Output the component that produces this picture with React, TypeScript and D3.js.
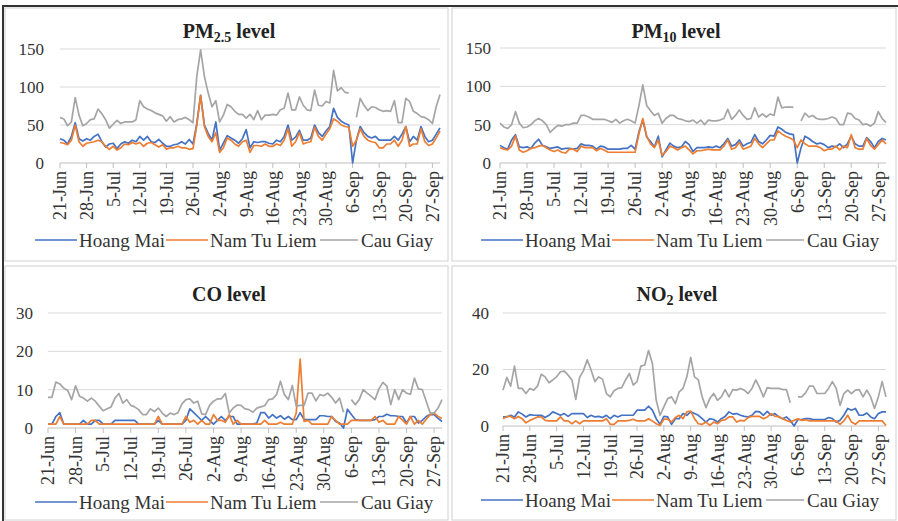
import * as d3 from "d3";

// 101 daily observations, 21 Jun – 29 Sep
const DAYS = d3.timeDay.range(new Date(2020, 5, 21), new Date(2020, 8, 30));
const TICK_DATES = DAYS.filter((_, i) => i % 7 === 0);
const fmt = d3.timeFormat("%-d-%b");

const SERIES_NAMES = ["Hoang Mai", "Nam Tu Liem", "Cau Giay"];
const SERIES_COLORS = ["#4472C4", "#ED7D31", "#A5A5A5"];

type V = number | null;

// PM2.5
const pm25Hoang: V[] = [
  32, 30, 25, 35, 53, 32, 29, 32, 30, 35, 38, 28, 21, 25, 26, 19, 25, 28, 26, 30, 28, 35, 30, 35, 28,
  27, 31, 26, 22, 22, 24, 25, 28, 25, 31, 25, 52, 89, 50, 39, 30, 54, 17, 26, 36, 33, 30, 26, 32,
  44, 20, 28, 27, 28, 28, 26, 25, 30, 28, 35, 50, 30, 34, 43, 30, 30, 33, 50, 40, 35, 42, 48, 72, 60,
  55, 52, 50, 0, 30, 48, 40, 35, 33, 35, 30, 30, 30, 30, 35, 30, 38, 48, 28, 35, 30, 48, 35, 28, 30, 38, 46,
];
const pm25Nam: V[] = [
  27, 26, 24, 30, 50, 28, 22, 26, 27, 28, 30, 28, 22, 18, 22, 17, 20, 25, 24, 27, 25, 27, 22, 26, 27,
  24, 21, 24, 18, 20, 20, 22, 20, 20, 18, 19, 50, 89, 48, 35, 28, 40, 14, 20, 33, 30, 25, 22, 28,
  30, 14, 23, 23, 22, 25, 22, 22, 25, 23, 30, 45, 22, 28, 40, 25, 27, 28, 47, 35, 30, 38, 45, 58, 55,
  50, 48, 47, 22, 30, 45, 35, 30, 28, 27, 20, 20, 25, 25, 30, 22, 30, 48, 22, 25, 25, 45, 28, 23, 25, 33, 42,
];
const pm25Cau: V[] = [
  60, 58, 49, 54, 86, 63, 49, 52, 57, 58, 71, 65, 57, 46, 51, 56, 52, 54, 54, 54, 57, 82, 74, 71, 69,
  66, 64, 62, 55, 61, 54, 57, 58, 60, 57, 53, 114, 149, 114, 92, 74, 82, 54, 63, 77, 74, 68, 64, 64,
  59, 64, 57, 69, 57, 63, 63, 64, 63, 70, 72, 92, 70, 70, 87, 76, 70, 69, 96, 76, 75, 81, 79, 122, 95,
  99, 93, 92, null, 60, 85, 76, 69, 74, 73, 70, 68, 69, 68, 82, 53, 53, 85, 81, 68, 65, 61, 60, 57, 52, 74, 90,
];

// PM10
const pm10Hoang: V[] = [
  23, 20, 18, 30, 37, 21, 20, 21, 19, 26, 31, 23, 21, 19, 20, 21, 18, 19, 19, 18, 19, 25, 23, 23, 22,
  18, 22, 21, 18, 18, 18, 18, 19, 19, 23, 18, 41, 56, 34, 28, 21, 35, 8, 17, 26, 22, 20, 21, 28,
  24, 15, 20, 20, 20, 21, 20, 22, 20, 25, 32, 22, 24, 30, 22, 25, 27, 37, 28, 25, 30, 36, 35, 47, 44,
  40, 38, 37, 0, 20, 35, 32, 28, 25, 26, 24, 20, 22, 21, 25, 20, 25, 35, 25, 22, 22, 33, 28, 20, 28, 32, 30,
];
const pm10Nam: V[] = [
  20, 18, 17, 22, 35, 17, 14, 16, 19, 20, 22, 23, 20, 17, 15, 17, 14, 13, 18, 18, 15, 22, 20, 20, 20,
  16, 19, 17, 14, 14, 14, 14, 14, 14, 14, 14, 38, 58, 35, 25, 20, 30, 10, 15, 22, 20, 17, 20, 22,
  17, 12, 16, 16, 17, 18, 17, 17, 17, 22, 30, 18, 20, 27, 18, 20, 22, 32, 25, 20, 25, 30, 30, 42, 38,
  35, 33, 30, 20, 30, 25, 22, 22, 22, 20, 16, 18, 18, 22, 17, 22, 20, 37, 20, 18, 18, 32, 23, 18, 24, 30, 25,
];
const pm10Cau: V[] = [
  52, 47, 45, 50, 67, 52, 46, 47, 50, 55, 58, 55, 50, 40, 45, 49, 48, 50, 50, 52, 52, 62, 62, 60, 57,
  57, 57, 57, 55, 53, 57, 52, 55, 57, 55, 52, 75, 102, 75, 68, 62, 65, 52, 58, 62, 62, 58, 57, 55,
  54, 56, 52, 56, 50, 56, 55, 55, 56, 58, 70, 57, 62, 69, 62, 57, 58, 72, 60, 64, 60, 64, 62, 86, 72,
  73, 73, 73, null, 55, 65, 60, 62, 58, 57, 57, 58, 60, 58, 50, 50, 65, 64, 58, 56, 50, 51, 48, 52, 67, 58, 53,
];

// CO
const coHoang: V[] = [
  1, 1, 3, 4, 1, 1, 1, 1, 1, 2, 1, 1, 2, 2, 1, 1, 1, 2, 2, 2, 2, 2, 2, 1, 1,
  1, 1, 1, 2, 1, 1, 1, 1, 1, 1, 2, 5, 4, 3, 2, 3, 2, 1, 2, 3, 2, 3, 3, 1,
  1, 1, 1, 1, 1.3, 4, 4, 2.6, 3.5, 2.6, 3.2, 2.3, 3, 2.2, 2.2, 4, 2.2, 2.2, 2.2, 2.2, 3.2, 3.2, 3, 3, 1.7,
  1.3, 0, 4.9, 3.5, 2.2, 2, 2, 2, 2, 2.2, 3, 3, 3.6, 3.2, 3.2, 3, 3, 1.3, 3, 3, 1.3, 2, 3, 3.5, 3.5, 2.5, 1.7,
];
const coNam: V[] = [
  1, 1, 1, 3, 1, 1, 1, 1, 1, 1, 1, 2, 2, 1, 1, 1, 1, 1, 1, 1, 1, 1, 1, 1, 1,
  1, 1, 1, 3, 1, 1, 1, 1, 1, 1, 3, 1.5, 2, 1, 2, 1, 1, 3.5, 2, 2, 1.5, 3.5, 1, 2,
  1, 1, 1, 1, 1, 1, 2, 1, 1, 1, 1.5, 1, 1, 1, 3.9, 18, 1.7, 2, 1, 1, 1, 1, 1, 3, 2,
  1, 1, 1, 2, 2, 2, 2, 2, 2, 3, 1.5, 2, 1, 1, 1, 3, 2, 1, 3, 1, 2, 1, 2.3, 3.5, 3.9, 3, 2.5,
];
const coCau: V[] = [
  8, 8, 12, 11.5, 10.4, 9.8, 7.4, 11, 8.3, 7.8, 7, 7.8, 7, 5.7, 4.5, 5, 5.5, 7.8, 9, 6.5, 7.4, 5.9, 5.5, 4.8, 3.5,
  3.5, 5, 4.3, 5.2, 3.9, 3, 3.9, 3.5, 4, 6.3, 7.4, 7.6, 6.5, 7, 3.7, 3.5, 5.9, 7, 7.6, 7.6, 9, 3.9, 5.2, 6,
  5.9, 5, 4.8, 4.1, 5.2, 5.5, 5.8, 7.4, 7.6, 8.7, 12.2, 8.7, 7.4, 11.1, 5.7, 5.9, 5.9, 9.1, 9.1, 7.1, 8.7, 8.4, 9.1, 8, 6.5,
  7.8, 4.1, null, 7.4, 6.1, 7.4, 10, 9.1, 8.3, 7.4, 10.2, 11.9, 10.9, 6.1, 10, 7.4, 10, 9.1, 8.8, 13, 10.2, 10, 7, 3.9, 3.9, 5.2, 7.4,
];

// NO2
const no2Hoang: V[] = [
  3.2, 3.2, 3.8, 3.2, 5, 4.2, 3.2, 4, 3.8, 3.8, 3.8, 3, 3.8, 5, 4.4, 3.8, 4.4, 3.4, 4.4, 4.4, 4.4, 4.4, 3, 3.8, 3.2,
  3.4, 3, 3.8, 2.6, 3.8, 3.2, 3.8, 3.8, 3.8, 3.8, 5.6, 5.6, 5.6, 7, 5.6, 2.6, 0.6, 3.4, 3.2, 0.6, 2.6, 2.6, 4.4, 3.8,
  5, 4.4, 3.8, 2.6, 1.4, 2.6, 2.3, 1.4, 2.6, 3.4, 5, 4.2, 4.4, 3.8, 3.4, 3.2, 3.8, 5.2, 5, 3.8, 5.2, 3.8, 4.4, 3.2, 2.6,
  3.2, 2, 0, 2.3, 2.3, 2.6, 2.6, 2.3, 2.3, 2.3, 2.3, 3, 2.6, 1.4, 2, 3.8, 6.2, 5.6, 6.2, 3.8, 3.8, 4.6, 3.2, 2.6, 4.4, 5, 5,
];
const no2Nam: V[] = [
  2.6, 3.4, 3.4, 2.6, 3.4, 2.6, 1.1, 2, 2.6, 3.2, 3.2, 2, 1.8, 1.8, 1.8, 3.2, 1.8, 1.8, 0.8, 1.8, 0.8, 1.8, 1.8, 1.8, 1.8,
  1.8, 1.8, 2.6, 0.6, 0.6, 1.8, 1.8, 1.8, 2, 2.4, 1.8, 1.8, 1.8, 2.6, 1.8, 0.8, 0.2, 2.4, 2.4, 1.4, 3, 3.8, 2.6, 5,
  5.3, 2.6, 0.8, 0.6, 1.4, 0.2, 1.4, 0.8, 2, 2.2, 3.2, 3.2, 1.4, 2, 1.8, 3, 3.4, 3.4, 3.4, 2.6, 3.2, 4.4, 3.4, 3.4, 2.6,
  2, 1.4, 2, 2.6, 2, 2.2, 1.8, 1.8, 1.8, 1.8, 1.8, 1.8, 1.8, 1.8, 0.6, 1.8, 3.8, 1.4, 0.6, 1.8, 1.8, 1.8, 1.8, 1.8, 1.8, 1.8, 0.2,
];
const no2Cau: V[] = [
  12.7, 17.2, 14.1, 21.2, 13.3, 13.3, 11.5, 13.3, 12.7, 14.1, 18.3, 17.4, 15.3, 16.3, 17.4, 19.2, 19.4, 18, 16.3, 9.4, 17.2, 19.6, 23.4, 19.8, 15.7,
  17.4, 16.5, 11.5, 10.3, 12.5, 13.3, 13.6, 16.3, 18.6, 14.5, 15.7, 21.2, 21.6, 26.7, 22.2, 9.1, 3.8, 6.8, 9.7, 10.3, 7.9, 12.1, 13.3, 17.4,
  24.3, 17.4, 16.3, 10.3, 6.5, 9.7, 11.5, 9.1, 10.3, 12.9, 10.3, 12.9, 12.7, 13.3, 12.7, 11.5, 13.3, 16.3, 13.6, 10.3, 13.6, 13.3, 13.3, 13.3, 12.9,
  12.9, 8.2, null, 10.3, 10.3, 11.7, 14.1, 14.1, 11.5, 11.5, 11.5, 13.3, 15.7, 13.3, 7.3, 11.5, 12.7, 11.5, 12.7, 12.9, 10.3, 12.7, 10.3, 6.2, 10.3, 15.7, 10.3,
];

const Y_TICKS_PM = [0, 50, 100, 150];
const Y_TICKS_CO = [0, 10, 20, 30];
const Y_TICKS_NO2 = [0, 20, 40];

const SERIF = "'Liberation Serif', 'Times New Roman', serif";

type PanelCfg = {
  title: string;
  sub: string;
  ox: number; // panel left offset
  x0: number;
  x1: number;
  yTop: number;
  yBottom: number;
  ticks: number[];
  labelRight: number;
  titleX: number;
  titleY: number;
  legendY: number;
  series: V[][];
};

const PANELS: PanelCfg[] = [
  {
    title: "PM", sub: "2.5", ox: 0, x0: 60, x1: 440, yTop: 49, yBottom: 163,
    ticks: Y_TICKS_PM, labelRight: 44, titleX: 229, titleY: 38, legendY: 240,
    series: [pm25Hoang, pm25Nam, pm25Cau],
  },
  {
    title: "PM", sub: "10", ox: 446, x0: 500, x1: 886, yTop: 48, yBottom: 163,
    ticks: Y_TICKS_PM, labelRight: 491, titleX: 676, titleY: 38, legendY: 240,
    series: [pm10Hoang, pm10Nam, pm10Cau],
  },
  {
    title: "CO", sub: "", ox: 0, x0: 48, x1: 442, yTop: 313, yBottom: 428,
    ticks: Y_TICKS_CO, labelRight: 33, titleX: 229, titleY: 301, legendY: 502,
    series: [coHoang, coNam, coCau],
  },
  {
    title: "NO", sub: "2", ox: 446, x0: 503, x1: 886, yTop: 313, yBottom: 426,
    ticks: Y_TICKS_NO2, labelRight: 489, titleX: 677, titleY: 301, legendY: 500,
    series: [no2Hoang, no2Nam, no2Cau],
  },
];

// legend layout, relative to the panel's left edge
const LEGEND_LINES = [
  [35, 77, 79],
  [166, 208, 210],
  [320, 358, 361],
];

function Panel({ cfg }: { cfg: PanelCfg }) {
  const x = d3.scaleTime().domain([DAYS[0], DAYS[DAYS.length - 1]]).range([cfg.x0, cfg.x1]);
  const yMax = cfg.ticks[cfg.ticks.length - 1];
  const y = d3.scaleLinear().domain([0, yMax]).range([cfg.yBottom, cfg.yTop]);
  const line = d3
    .line<V>()
    .defined((d) => d != null)
    .x((_, i) => x(DAYS[i]))
    .y((d) => y(d as number));

  return (
    <g>
      {/* gridlines */}
      {cfg.ticks.slice(1).map((t) => (
        <line key={t} x1={cfg.x0} x2={cfg.x1} y1={y(t)} y2={y(t)} stroke="#d9d9d9" strokeWidth={1} />
      ))}
      {/* y labels */}
      {cfg.ticks.map((t) => (
        <text
          key={"l" + t}
          x={cfg.labelRight}
          y={y(t)}
          dy="0.35em"
          textAnchor="end"
          fontFamily={SERIF}
          fontSize={17}
          fill="#333"
        >
          {t}
        </text>
      ))}
      {/* x axis */}
      <line x1={cfg.x0} x2={cfg.x1} y1={cfg.yBottom} y2={cfg.yBottom} stroke="#bfbfbf" strokeWidth={1} />
      {TICK_DATES.map((d) => (
        <g key={+d} transform={`translate(${x(d)},${cfg.yBottom})`}>
          <line y1={0} y2={5} stroke="#bfbfbf" />
          <text
            transform="translate(0,8) rotate(-90)"
            textAnchor="end"
            dy="0.35em"
            fontFamily={SERIF}
            fontSize={18}
            fill="#333"
          >
            {fmt(d)}
          </text>
        </g>
      ))}
      {/* series */}
      {cfg.series.map((s, k) => (
        <path
          key={k}
          d={line(s) ?? ""}
          fill="none"
          stroke={SERIES_COLORS[k]}
          strokeWidth={1.7}
          strokeLinejoin="round"
        />
      ))}
      {/* title */}
      <text
        x={cfg.titleX}
        y={cfg.titleY}
        textAnchor="middle"
        fontFamily={SERIF}
        fontWeight="bold"
        fontSize={20}
        fill="#222"
      >
        {cfg.title}
        {cfg.sub && (
          <tspan fontSize={14} dy={4}>
            {cfg.sub}
          </tspan>
        )}
        <tspan dy={cfg.sub ? -4 : 0}> level</tspan>
      </text>
      {/* legend */}
      {SERIES_NAMES.map((name, k) => {
        const [a, b, t] = LEGEND_LINES[k];
        return (
          <g key={name}>
            <line
              x1={cfg.ox + a}
              x2={cfg.ox + b}
              y1={cfg.legendY}
              y2={cfg.legendY}
              stroke={SERIES_COLORS[k]}
              strokeWidth={1.7}
            />
            <text
              x={cfg.ox + t}
              y={cfg.legendY}
              dy="0.35em"
              fontFamily={SERIF}
              fontSize={19}
              fill="#333"
            >
              {name}
            </text>
          </g>
        );
      })}
    </g>
  );
}

export default function App() {
  return (
    <svg
      width={898}
      height={521}
      style={{ position: "absolute", left: 0, top: 0, background: "#fff" }}
    >
      <rect x={0} y={0} width={898} height={521} fill="#fff" />
      {/* panel frames */}
      <rect x={5} y={8} width={443} height={253} fill="none" stroke="#d0d0d0" />
      <rect x={452} y={8} width={444} height={253} fill="none" stroke="#d0d0d0" />
      <rect x={5} y={266} width={443} height={254} fill="none" stroke="#d0d0d0" />
      <rect x={452} y={266} width={444} height={254} fill="none" stroke="#d0d0d0" />
      {/* outer dark edge */}
      <line x1={2} x2={898} y1={6} y2={6} stroke="#333" strokeWidth={2} />
      <line x1={3} x2={3} y1={5} y2={521} stroke="#333" strokeWidth={2} />
      {PANELS.map((p, i) => (
        <Panel key={i} cfg={p} />
      ))}
    </svg>
  );
}
